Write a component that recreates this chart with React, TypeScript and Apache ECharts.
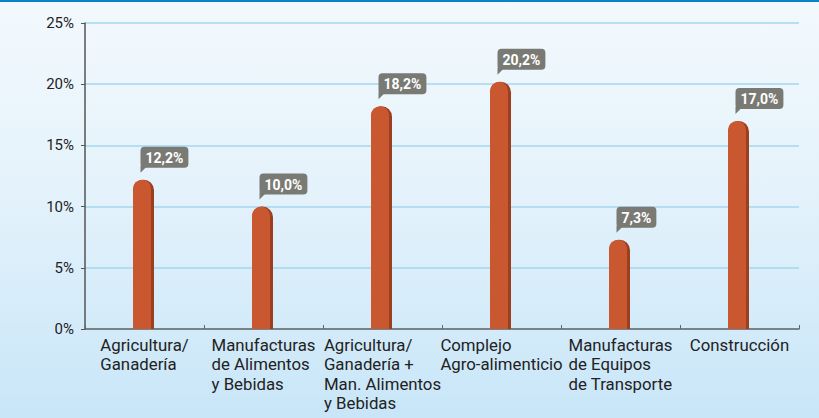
import React, { useEffect, useRef } from "react";
import * as echarts from "echarts";

const categories = [
  ["Agricultura/", "Ganadería"],
  ["Manufacturas", "de Alimentos", "y Bebidas"],
  ["Agricultura/", "Ganadería +", "Man. Alimentos", "y Bebidas"],
  ["Complejo", "Agro-alimenticio"],
  ["Manufacturas", "de Equipos", "de Transporte"],
  ["Construcción"],
];
const values = [12.2, 10.0, 18.2, 20.2, 7.3, 17.0];
const valueLabels = ["12,2%", "10,0%", "18,2%", "20,2%", "7,3%", "17,0%"];
const yTicks = [0, 5, 10, 15, 20, 25];

export default function App() {
  const ref = useRef<HTMLDivElement>(null);
  useEffect(() => {
    document.body.style.margin = "0";
    const chart = echarts.init(ref.current!, null, { renderer: "svg" });
    const font = "Roboto";
    chart.setOption({
      animation: false,
      grid: { left: 85, right: 20, top: 21, bottom: 89, containLabel: false },
      xAxis: {
        type: "category",
        data: categories.map((c) => c.join("\n")),
        boundaryGap: true,
        axisLine: { show: true, lineStyle: { color: "#666", width: 1.5 } },
        axisTick: { show: true, inside: true, length: 4, lineStyle: { color: "#666" } },
        axisLabel: {
          interval: 0,
          margin: 6,
          color: "#222",
          fontFamily: font,
          fontSize: 16.8,
          lineHeight: 19.5,
          formatter: (v: string) =>
            v
              .split("\n")
              .map((l) => `{a|${l}}`)
              .join("\n"),
          rich: {
            a: { align: "left", color: "#222", fontFamily: font, fontSize: 16.8, lineHeight: 19.5 },
          },
        },
      },
      yAxis: {
        type: "value",
        min: yTicks[0],
        max: yTicks[yTicks.length - 1],
        interval: 5,
        axisLine: { show: true, lineStyle: { color: "#555", width: 1.5 } },
        axisTick: { show: true, length: 4, lineStyle: { color: "#555" } },
        axisLabel: {
          formatter: (v: number) => `${v}%`,
          color: "#222",
          fontFamily: font,
          fontSize: 15,
          margin: 11,
        },
        splitLine: { show: true, lineStyle: { color: "#a3d7ef", width: 1.5 } },
      },
      series: [
        {
          type: "custom",
          coordinateSystem: "cartesian2d",
          data: values.map((v, i) => [i, v]),
          renderItem: (params: any, api: any) => {
            const idx = api.value(0);
            const v = api.value(1);
            const top = api.coord([idx, v]);
            const base = api.coord([idx, 0]);
            const w = 21;
            const r = w / 2;
            const cx = top[0] - 1;
            const h = base[1] - top[1];
            const boxLeft = cx - 3;
            const boxBottom = top[1] - 12;
            return {
              type: "group",
              children: [
                {
                  type: "rect",
                  shape: { x: cx - r, y: top[1], width: w, height: h, r: [r, r, 0, 0] },
                  style: { fill: "#9c3f21" },
                },
                {
                  type: "rect",
                  shape: { x: cx - r, y: top[1], width: w - 3, height: h, r: [(w - 3) / 2, (w - 3) / 2, 0, 0] },
                  style: { fill: "#c9572f" },
                },
                {
                  type: "polygon",
                  shape: {
                    points: [
                      [boxLeft, boxBottom - 2],
                      [boxLeft + 7, boxBottom - 2],
                      [boxLeft, boxBottom + 5],
                    ],
                  },
                  style: { fill: "#7a7a74" },
                },
                {
                  type: "text",
                  x: boxLeft,
                  y: boxBottom,
                  style: {
                    text: valueLabels[params.dataIndex],
                    fill: "#fff",
                    font: `bold 14px ${font}`,
                    align: "left",
                    verticalAlign: "bottom",
                    backgroundColor: "#7a7a74",
                    borderRadius: 4,
                    padding: [4, 5, 3, 5],
                  },
                },
              ],
            };
          },
        },
      ],
    });
    return () => chart.dispose();
  }, []);
  return (
    <div
      style={{
        width: 819,
        height: 418,
        boxSizing: "border-box",
        borderTop: "2px solid #0a84c8",
        background: "linear-gradient(to bottom, #f3f9fd 0%, #e4f2fb 45%, #c8e6f8 100%)",
      }}
    >
      <div ref={ref} style={{ width: 819, height: 416 }} />
    </div>
  );
}
